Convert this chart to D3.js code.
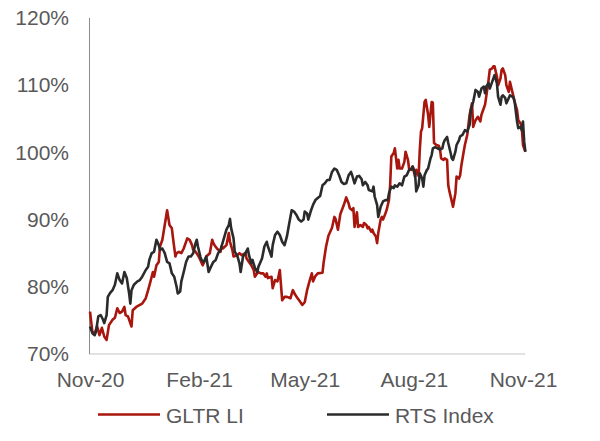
<!DOCTYPE html>
<html>
<head>
<meta charset="utf-8">
<script src="https://cdn.jsdelivr.net/npm/d3@7"></script>
<style>
  body { margin: 0; background: #fff; }
  text { font-family: "Liberation Sans", Arial, sans-serif; }
</style>
</head>
<body>
<svg width="600" height="441"></svg>
<script>
// GLTR LI (red)
let gltrDates = [
  "2020-11-01","2020-11-03","2020-11-05","2020-11-07","2020-11-09","2020-11-11","2020-11-13","2020-11-15",
  "2020-11-17","2020-11-20","2020-11-22","2020-11-24","2020-11-26","2020-11-28","2020-11-30","2020-12-01",
  "2020-12-03","2020-12-06","2020-12-07","2020-12-10","2020-12-13","2020-12-15","2020-12-18","2020-12-20",
  "2020-12-22","2020-12-24","2020-12-25","2020-12-27","2020-12-29","2020-12-30","2021-01-01","2021-01-05",
  "2021-01-07","2021-01-09","2021-01-10","2021-01-12","2021-01-13","2021-01-15","2021-01-17","2021-01-19",
  "2021-01-22","2021-01-24","2021-01-26","2021-01-27","2021-01-29","2021-01-31","2021-02-02","2021-02-04",
  "2021-02-06","2021-02-07","2021-02-10","2021-02-12","2021-02-13","2021-02-14","2021-02-16","2021-02-19",
  "2021-02-20","2021-02-21","2021-02-24","2021-02-26","2021-02-27","2021-03-01","2021-03-02","2021-03-05",
  "2021-03-07","2021-03-09","2021-03-12","2021-03-13","2021-03-15","2021-03-17","2021-03-19","2021-03-20",
  "2021-03-22","2021-03-23","2021-03-25","2021-03-27","2021-03-29","2021-03-30","2021-03-31","2021-04-03",
  "2021-04-04","2021-04-06","2021-04-08","2021-04-10","2021-04-12","2021-04-14","2021-04-16","2021-04-19",
  "2021-04-21","2021-04-23","2021-04-25","2021-04-27","2021-04-29","2021-05-01","2021-05-03","2021-05-05",
  "2021-05-07","2021-05-08","2021-05-10","2021-05-12","2021-05-16","2021-05-17","2021-05-19","2021-05-21",
  "2021-05-24","2021-05-26","2021-05-27","2021-05-29","2021-05-31","2021-06-03","2021-06-05","2021-06-07",
  "2021-06-08","2021-06-10","2021-06-11","2021-06-12","2021-06-14","2021-06-15","2021-06-17","2021-06-19",
  "2021-06-20","2021-06-22","2021-06-23","2021-06-24","2021-06-26","2021-06-27","2021-06-28","2021-06-30",
  "2021-07-01","2021-07-02","2021-07-04","2021-07-05","2021-07-06","2021-07-08","2021-07-09","2021-07-11",
  "2021-07-12","2021-07-13","2021-07-15","2021-07-16","2021-07-18","2021-07-19","2021-07-20","2021-07-22",
  "2021-07-24","2021-07-25","2021-07-27","2021-07-28","2021-07-30","2021-07-31","2021-08-02","2021-08-03",
  "2021-08-05","2021-08-06","2021-08-07","2021-08-08","2021-08-10","2021-08-11","2021-08-13","2021-08-14",
  "2021-08-16","2021-08-17","2021-08-18","2021-08-20","2021-08-22","2021-08-23","2021-08-24","2021-08-26",
  "2021-08-27","2021-08-29","2021-08-30","2021-08-31","2021-09-02","2021-09-03","2021-09-05","2021-09-06",
  "2021-09-08","2021-09-09","2021-09-10","2021-09-12","2021-09-13","2021-09-15","2021-09-17","2021-09-19",
  "2021-09-20","2021-09-22","2021-09-24","2021-09-26","2021-09-27","2021-09-29","2021-09-30","2021-10-01",
  "2021-10-03","2021-10-04","2021-10-06","2021-10-07","2021-10-08","2021-10-10","2021-10-11","2021-10-13",
  "2021-10-14","2021-10-15","2021-10-17","2021-10-18","2021-10-20","2021-10-21","2021-10-23","2021-10-24",
  "2021-10-25","2021-10-27","2021-10-28","2021-10-30","2021-10-31","2021-11-01","2021-11-03"
];
let gltrValues = [
  76.3,73.3,73.1,74.1,72.8,73.9,72.6,72.1,
  74.3,75.1,75.4,76.8,76.1,76.3,77.0,75.8,
  75.6,74.1,76.5,77.0,77.3,77.5,78.3,79.5,
  80.8,82.2,81.5,83.2,83.7,86.0,87.0,91.4,
  89.2,88.7,87.2,84.5,85.0,85.2,85.0,85.7,
  87.2,87.0,86.2,85.5,85.2,84.7,84.0,83.2,
  84.0,84.5,85.0,87.0,86.5,86.2,85.7,85.2,
  86.0,85.7,86.2,88.0,86.7,85.5,84.5,84.7,
  85.0,84.7,85.0,84.2,83.7,83.2,82.5,81.5,
  82.0,82.2,82.0,82.0,81.5,82.0,81.3,81.5,
  79.8,81.0,80.8,82.5,78.0,78.5,78.5,78.3,
  79.5,78.8,78.3,77.8,77.3,77.7,79.5,80.8,
  82.0,80.8,81.6,82.0,82.1,83.7,86.0,87.6,
  88.8,90.4,90.1,88.5,90.8,92.2,93.3,92.4,
  91.7,91.4,91.7,88.9,91.1,88.9,89.2,88.9,
  89.5,89.2,88.7,88.9,88.2,88.5,88.0,87.5,
  86.5,88.0,90.0,90.4,90.0,90.9,91.4,92.9,
  95.1,99.4,99.9,100.6,97.6,98.9,97.6,97.6,
  98.6,100.1,98.9,97.6,97.4,97.9,96.4,97.4,
  96.5,100.4,103.1,103.6,107.5,107.8,105.6,103.8,
  107.5,107.4,101.4,101.1,101.0,100.5,99.1,98.9,
  99.1,98.9,95.1,94.2,92.7,91.9,93.9,96.4,
  96.1,96.6,98.0,100.1,101.1,102.6,105.6,107.3,
  103.8,104.8,105.3,104.6,105.6,106.6,107.1,108.3,
  110.8,112.3,112.5,112.8,112.8,111.3,110.0,111.0,
  112.3,112.5,111.5,110.0,109.0,110.5,109.0,108.3,
  107.5,106.3,104.8,104.3,103.6,101.1,100.1
];

// RTS Index (black)
let rtsDates = [
  "2020-11-01","2020-11-03","2020-11-05","2020-11-06","2020-11-08","2020-11-10","2020-11-12","2020-11-13",
  "2020-11-15","2020-11-16","2020-11-18","2020-11-20","2020-11-22","2020-11-24","2020-11-26","2020-11-28",
  "2020-11-30","2020-12-02","2020-12-04","2020-12-05","2020-12-06","2020-12-08","2020-12-11","2020-12-13",
  "2020-12-15","2020-12-18","2020-12-20","2020-12-21","2020-12-23","2020-12-25","2020-12-27","2020-12-29",
  "2020-12-30","2021-01-01","2021-01-03","2021-01-05","2021-01-07","2021-01-09","2021-01-11","2021-01-13",
  "2021-01-14","2021-01-16","2021-01-17","2021-01-19","2021-01-21","2021-01-23","2021-01-25","2021-01-27",
  "2021-01-29","2021-01-30","2021-01-31","2021-02-02","2021-02-03","2021-02-05","2021-02-07","2021-02-09",
  "2021-02-11","2021-02-13","2021-02-15","2021-02-17","2021-02-19","2021-02-21","2021-02-24","2021-02-26",
  "2021-02-27","2021-02-28","2021-03-02","2021-03-03","2021-03-05","2021-03-07","2021-03-08","2021-03-10",
  "2021-03-12","2021-03-14","2021-03-15","2021-03-17","2021-03-18","2021-03-20","2021-03-22","2021-03-23",
  "2021-03-26","2021-03-28","2021-03-30","2021-03-31","2021-04-03","2021-04-04","2021-04-06","2021-04-08",
  "2021-04-10","2021-04-12","2021-04-14","2021-04-16","2021-04-18","2021-04-20","2021-04-22","2021-04-24",
  "2021-04-26","2021-04-28","2021-04-30","2021-05-01","2021-05-03","2021-05-04","2021-05-06","2021-05-08",
  "2021-05-10","2021-05-12","2021-05-14","2021-05-16","2021-05-18","2021-05-20","2021-05-22","2021-05-24",
  "2021-05-26","2021-05-28","2021-05-30","2021-06-01","2021-06-03","2021-06-05","2021-06-07","2021-06-09",
  "2021-06-10","2021-06-12","2021-06-14","2021-06-16","2021-06-18","2021-06-19","2021-06-21","2021-06-23",
  "2021-06-24","2021-06-27","2021-06-28","2021-06-29","2021-07-01","2021-07-02","2021-07-04","2021-07-06",
  "2021-07-08","2021-07-10","2021-07-11","2021-07-13","2021-07-15","2021-07-16","2021-07-18","2021-07-20",
  "2021-07-22","2021-07-24","2021-07-26","2021-07-28","2021-07-30","2021-07-31","2021-08-02","2021-08-03",
  "2021-08-05","2021-08-06","2021-08-08","2021-08-09","2021-08-10","2021-08-12","2021-08-13","2021-08-15",
  "2021-08-16","2021-08-17","2021-08-19","2021-08-21","2021-08-23","2021-08-25","2021-08-26","2021-08-27",
  "2021-08-29","2021-08-30","2021-09-01","2021-09-02","2021-09-03","2021-09-05","2021-09-06","2021-09-08",
  "2021-09-09","2021-09-11","2021-09-13","2021-09-15","2021-09-17","2021-09-18","2021-09-20","2021-09-22",
  "2021-09-24","2021-09-25","2021-09-27","2021-09-29","2021-09-30","2021-10-01","2021-10-03","2021-10-04",
  "2021-10-06","2021-10-07","2021-10-08","2021-10-10","2021-10-11","2021-10-13","2021-10-14","2021-10-15",
  "2021-10-17","2021-10-18","2021-10-20","2021-10-21","2021-10-23","2021-10-24","2021-10-25","2021-10-27",
  "2021-10-28","2021-10-30","2021-10-31","2021-11-01","2021-11-02","2021-11-03"
];
let rtsValues = [
  74.1,73.1,72.8,73.3,75.6,75.8,75.1,74.6,
  75.8,78.5,79.1,79.5,80.3,82.0,81.0,80.5,
  82.2,81.3,79.0,77.5,79.5,80.3,80.8,81.0,
  81.5,82.5,83.0,84.0,85.0,85.2,87.0,86.2,
  85.5,85.7,85.0,83.7,83.5,82.0,81.5,80.0,
  79.0,79.3,80.8,82.2,83.7,84.5,84.5,85.0,
  86.5,87.0,86.0,84.5,84.0,83.7,84.5,82.2,
  83.0,83.7,84.0,85.0,85.5,86.7,88.5,89.2,
  90.1,88.7,87.2,85.2,84.7,83.5,82.2,84.5,
  85.0,85.7,84.7,83.5,84.0,82.8,82.2,83.0,
  84.2,86.0,86.7,86.0,84.5,86.2,87.7,88.2,
  87.7,86.7,86.2,87.5,89.5,91.4,91.2,90.7,
  90.0,89.7,90.0,91.2,90.9,90.0,91.2,92.2,
  92.9,93.2,93.5,95.1,95.4,95.9,95.9,97.1,
  97.6,97.4,96.6,95.6,95.3,95.4,96.6,97.1,
  96.6,95.4,96.4,96.5,96.0,95.1,95.6,95.1,
  94.4,94.2,94.9,93.4,92.2,90.4,91.9,92.7,
  92.9,92.9,93.9,94.9,94.7,95.1,94.9,95.4,
  95.1,96.4,96.6,97.4,97.6,97.9,96.9,94.2,
  95.1,96.9,96.1,94.9,96.6,97.4,97.6,99.1,
  99.6,100.6,100.8,100.6,100.4,100.6,101.4,101.8,
  102.3,101.4,99.9,99.1,98.9,100.1,101.1,101.8,
  102.4,102.6,103.3,103.1,104.1,106.3,107.5,109.3,
  109.0,108.3,109.5,109.8,108.8,109.8,110.3,109.5,
  110.5,111.0,111.5,110.3,108.3,107.1,108.3,108.5,
  108.1,107.3,108.1,108.5,108.3,108.1,107.5,104.6,
  103.6,103.8,103.3,104.6,101.6,100.1
];

let yTicks = [70, 80, 90, 100, 110, 120];
let xTickDates = ["2020-11-01", "2021-02-01", "2021-05-01", "2021-08-01", "2021-11-01"];
let seriesNames = ["GLTR LI", "RTS Index"];
let seriesColors = ["#a8160e", "#2b2b2b"];

function drawChart() {
  let parse = d3.timeParse("%Y-%m-%d");
  let svg = d3.select("svg");

  let xScale = d3.scaleTime()
    .domain([parse("2020-11-01"), parse("2021-11-01")])
    .range([90, 523]);
  let yScale = d3.scaleLinear().domain([70, 120]).range([354, 18]);

  let series = [
    gltrDates.map((d, i) => ({date: parse(d), value: gltrValues[i]})),
    rtsDates.map((d, i) => ({date: parse(d), value: rtsValues[i]}))
  ];

  let allDates = series.flat().map(d => d.date);
  let xExtent = d3.extent(allDates);

  // x axis: light grey baseline + month labels
  svg.append("line")
    .attr("x1", xScale(xExtent[0]) - 1)
    .attr("x2", xScale(xExtent[1]))
    .attr("y1", yScale(70))
    .attr("y2", yScale(70))
    .style("stroke", "#d9d9d9")
    .style("stroke-width", 1.5);

  let xAxis = d3.axisBottom(xScale)
    .tickValues(xTickDates.map(parse))
    .tickFormat(d3.timeFormat("%b-%y"))
    .tickSize(0)
    .tickPadding(18.5);

  svg.append("g")
    .attr("transform", `translate(0,${yScale(70)})`)
    .call(xAxis)
    .call(g => g.select(".domain").remove())
    .selectAll("text")
    .style("font-size", "21px")
    .style("font-family", "'Liberation Sans', Arial, sans-serif")
    .style("fill", "#595959");

  // y axis
  let yAxis = d3.axisLeft(yScale)
    .tickValues(yTicks)
    .tickFormat(d => d + "%")
    .tickSize(0)
    .tickPadding(20.5);

  svg.append("g")
    .attr("transform", "translate(89.5,0)")
    .call(yAxis)
    .call(g => g.select(".domain").remove())
    .selectAll("text")
    .style("font-size", "21px")
    .style("font-family", "'Liberation Sans', Arial, sans-serif")
    .style("fill", "#595959");

  svg.append("line")
    .attr("x1", 89.5).attr("x2", 89.5)
    .attr("y1", yScale(120)).attr("y2", yScale(70))
    .style("stroke", "#8c8c8c")
    .style("stroke-width", 1);

  let line = d3.line()
    .x(d => xScale(d.date))
    .y(d => yScale(d.value));

  svg.selectAll("path.series")
    .data(series)
    .join("path")
    .attr("class", "series")
    .attr("d", d => line(d))
    .style("fill", "none")
    .style("stroke", (d, i) => seriesColors[i])
    .style("stroke-width", 2.6)
    .style("stroke-linejoin", "round");

  // legend
  let legendX = [98, 327];
  let legend = svg.selectAll("g.legend")
    .data(seriesNames)
    .join("g")
    .attr("class", "legend")
    .attr("transform", (d, i) => `translate(${legendX[i]},414.5)`);

  legend.append("line")
    .attr("x1", 0).attr("x2", 62)
    .style("stroke", (d, i) => seriesColors[i])
    .style("stroke-width", 2.6);

  legend.append("text")
    .attr("x", 68)
    .attr("y", 8)
    .style("font-size", "21px")
    .style("fill", "#595959")
    .text(d => d);
}

drawChart();
</script>
</body>
</html>
